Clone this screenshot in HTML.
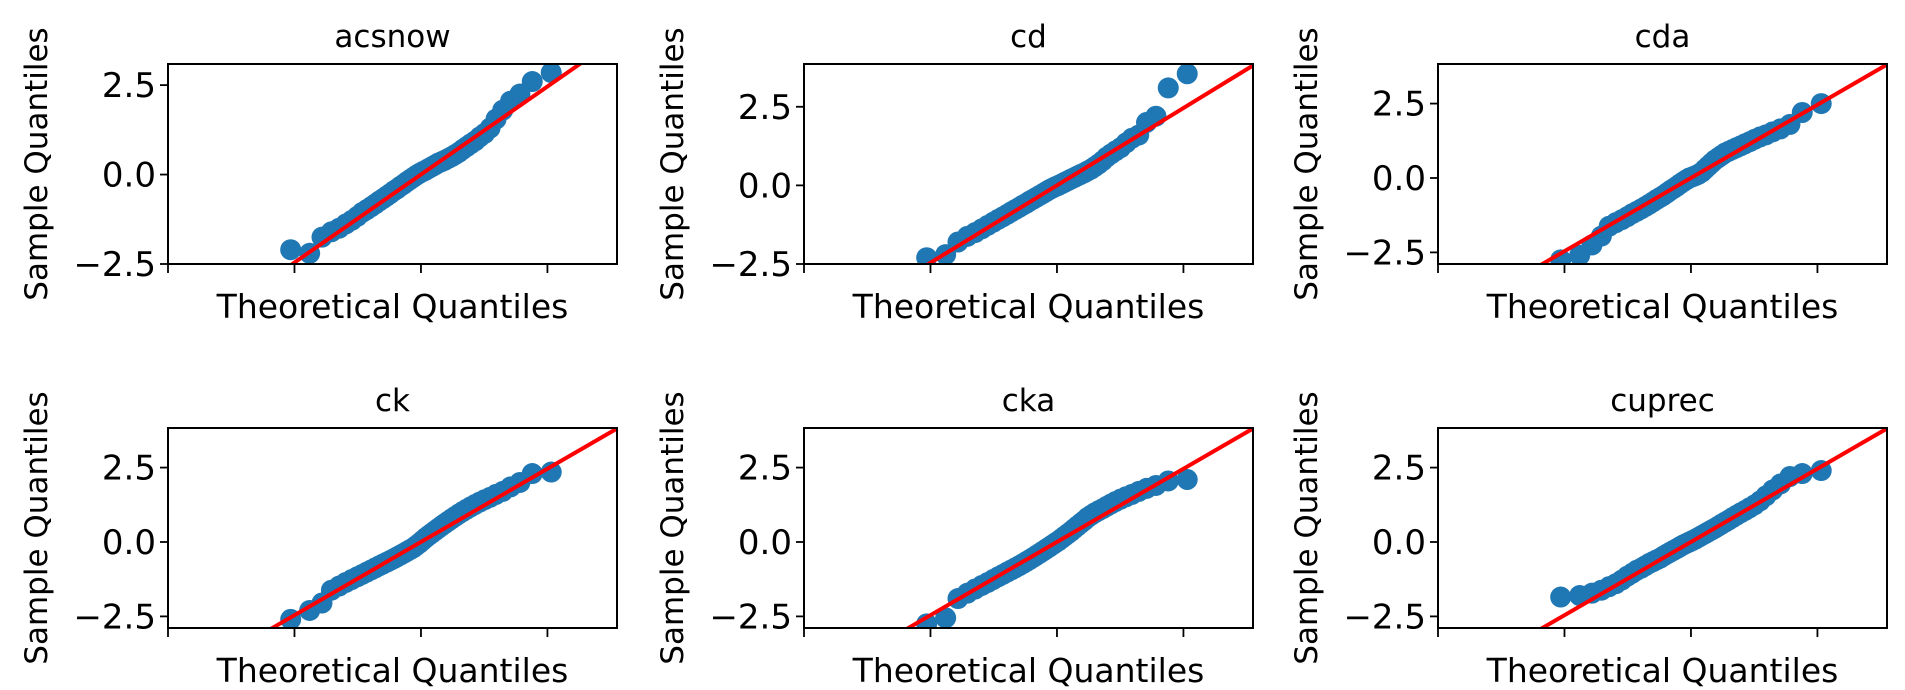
<!DOCTYPE html>
<html><head><meta charset="utf-8"><style>
body{margin:0;background:#fff;}
svg{display:block;font-family:"DejaVu Sans","Liberation Sans",sans-serif;}
</style></head><body>
<svg id="fig" width="1905" height="690" viewBox="0 0 1905 690"></svg>
<script>
const titles = ["acsnow","cd","cda","ck","cka","cuprec"];
const theoQ = [-2.06,-1.76,-1.565,-1.416,-1.293,-1.187,-1.093,-1.007,-0.929,-0.856,-0.787,-0.722,-0.659,-0.599,-0.541,-0.485,-0.431,-0.377,-0.325,-0.274,-0.223,-0.173,-0.123,-0.074,-0.025,0.025,0.074,0.123,0.173,0.223,0.274,0.325,0.377,0.431,0.485,0.541,0.599,0.659,0.722,0.787,0.856,0.929,1.007,1.093,1.187,1.293,1.416,1.565,1.76,2.06];
const acsnowQ = [-2.1,-2.2,-1.75,-1.6,-1.5,-1.38,-1.28,-1.17,-1.06,-0.98,-0.9,-0.82,-0.74,-0.67,-0.6,-0.53,-0.46,-0.4,-0.33,-0.27,-0.2,-0.14,-0.08,-0.02,0.03,0.08,0.12,0.17,0.22,0.27,0.32,0.36,0.4,0.45,0.5,0.56,0.62,0.7,0.78,0.86,0.94,1.05,1.15,1.3,1.55,1.8,2.05,2.25,2.6,2.85];
const cdQ = [-2.3,-2.2,-1.8,-1.62,-1.5,-1.38,-1.27,-1.17,-1.08,-1.0,-0.92,-0.84,-0.77,-0.7,-0.63,-0.57,-0.5,-0.44,-0.38,-0.32,-0.26,-0.2,-0.14,-0.09,-0.04,0.0,0.05,0.1,0.15,0.2,0.25,0.3,0.35,0.4,0.46,0.52,0.6,0.68,0.78,0.9,1.0,1.1,1.2,1.35,1.5,1.6,2.0,2.2,3.1,3.55];
const cdaQ = [-2.75,-2.6,-2.25,-1.95,-1.62,-1.5,-1.4,-1.3,-1.2,-1.12,-1.04,-0.96,-0.88,-0.8,-0.72,-0.65,-0.58,-0.5,-0.42,-0.35,-0.28,-0.2,-0.13,-0.06,0.0,0.04,0.08,0.13,0.2,0.3,0.4,0.5,0.6,0.68,0.76,0.84,0.9,0.96,1.02,1.08,1.15,1.22,1.3,1.38,1.45,1.55,1.65,1.8,2.2,2.5];
const ckQ = [-2.6,-2.3,-2.05,-1.62,-1.48,-1.36,-1.26,-1.17,-1.09,-1.01,-0.94,-0.87,-0.8,-0.74,-0.68,-0.62,-0.56,-0.5,-0.44,-0.38,-0.32,-0.26,-0.2,-0.12,-0.04,0.05,0.14,0.22,0.3,0.38,0.46,0.54,0.62,0.7,0.78,0.86,0.94,1.02,1.1,1.18,1.26,1.34,1.42,1.5,1.6,1.7,1.85,2.0,2.3,2.35];
const ckaQ = [-2.75,-2.55,-1.9,-1.72,-1.58,-1.46,-1.36,-1.26,-1.17,-1.09,-1.01,-0.94,-0.87,-0.8,-0.73,-0.66,-0.59,-0.52,-0.45,-0.38,-0.31,-0.24,-0.17,-0.1,-0.03,0.04,0.12,0.2,0.28,0.36,0.45,0.54,0.63,0.72,0.82,0.9,0.98,1.05,1.12,1.2,1.28,1.36,1.44,1.52,1.6,1.7,1.8,1.9,2.05,2.1];
const cuprecQ = [-1.85,-1.8,-1.72,-1.62,-1.5,-1.4,-1.28,-1.15,-1.05,-0.95,-0.88,-0.8,-0.72,-0.66,-0.6,-0.54,-0.47,-0.4,-0.34,-0.28,-0.22,-0.16,-0.1,-0.05,0.0,0.05,0.1,0.16,0.22,0.28,0.34,0.4,0.46,0.53,0.6,0.67,0.74,0.82,0.9,0.98,1.06,1.15,1.25,1.38,1.55,1.75,1.95,2.2,2.3,2.4];
const sampleQ = [acsnowQ,cdQ,cdaQ,ckQ,ckaQ,cuprecQ];
const yMin = [-2.5,-2.5,-2.89,-2.89,-2.89,-2.89];
const yMax = [3.09,3.86,3.83,3.83,3.83,3.83];
const yTicks = [-2.5,0,2.5];
const yTickLabels = ["\u22122.5","0.0","2.5"];
const xTicks = [-4,-2,0,2];
const lineSlope = [1.23,1.23,1.23,1.23,1.23,1.23];
const lineIntercept = [0,0,0,0,0,0];

const NS="http://www.w3.org/2000/svg";
const svg=document.getElementById('fig');
function mk(tag,attrs,parent){const e=document.createElementNS(NS,tag);for(const k in attrs)e.setAttribute(k,attrs[k]);(parent||svg).appendChild(e);return e;}
const colL=[168,804,1438], rowT=[64,428], W=449, H=200;
const xMin=-4, xMax=3.1;
titles.forEach((t,i)=>{
  const L=colL[i%3], T=rowT[Math.floor(i/3)];
  const sx=v=>L+(v-xMin)/(xMax-xMin)*W;
  const sy=v=>T+H-(v-yMin[i])/(yMax[i]-yMin[i])*H;
  const g=mk('g',{});
  
  
  const cid='clip'+i;
  const cp=mk('clipPath',{id:cid},g); mk('rect',{x:L,y:T,width:W,height:H},cp);
  const pts=mk('g',{'clip-path':'url(#'+cid+')'},g);
  
  
  theoQ.forEach((x,j)=>{
    const c=mk('circle',{cx:sx(x),cy:sy(sampleQ[i][j]),r:10.5,fill:'#1f77b4'},pts);
    
    
  });
  const x0=xMin,x1=xMax;
  const ln=mk('line',{x1:sx(x0),y1:sy(lineSlope[i]*x0+lineIntercept[i]),x2:sx(x1),y2:sy(lineSlope[i]*x1+lineIntercept[i]),stroke:'#ff0000','stroke-width':4,'clip-path':'url(#'+cid+')'},g);
  
  
  const fr=mk('rect',{x:L,y:T,width:W,height:H,fill:'none',stroke:'#000','stroke-width':2},g);
  
  
  yTicks.forEach((v,k)=>{
    const y=sy(v);
    mk('line',{x1:L-8,y1:y,x2:L,y2:y,stroke:'#000','stroke-width':1.8},g);
    const tx=mk('text',{x:L-12,y:y+12,'text-anchor':'end','font-size':34,fill:'#000'},g);
    tx.textContent=yTickLabels[k];
    
    
  });
  xTicks.forEach(v=>{const x=sx(v);mk('line',{x1:x,y1:T+H,x2:x,y2:T+H+9,stroke:'#000','stroke-width':1.8},g);});
  const ti=mk('text',{x:L+W/2,y:T-17,'text-anchor':'middle','font-size':31,fill:'#000'},g);
  ti.textContent=t;
  
  
  const xl=mk('text',{x:L+W/2,y:T+H+54,'text-anchor':'middle','font-size':33,fill:'#000'},g);
  xl.textContent='Theoretical Quantiles';
  
  
  const yx=L-121, yc=T+H/2;
  const yl=mk('text',{x:yx,y:yc,'text-anchor':'middle','font-size':31,fill:'#000',transform:'rotate(-90 '+yx+' '+yc+')'},g);
  yl.textContent='Sample Quantiles';
  
  
});
</script>
</body></html>
